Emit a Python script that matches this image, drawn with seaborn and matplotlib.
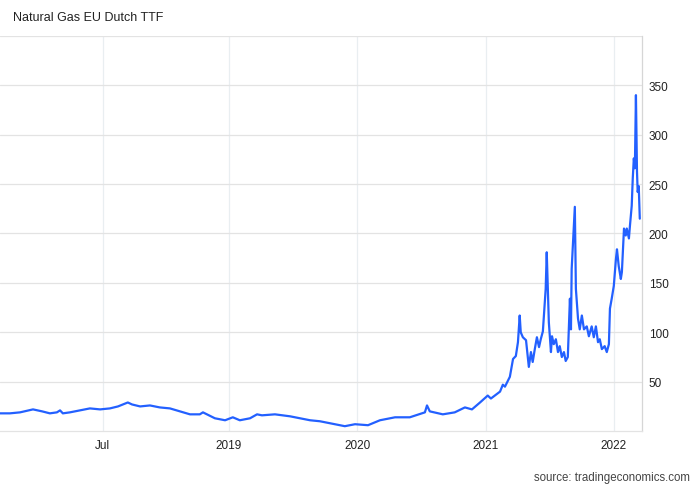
import pandas as pd
import matplotlib.pyplot as plt
import seaborn as sns

# Natural Gas EU Dutch TTF (EUR/MWh)
dates = [
    "2017-03-20", "2017-04-17", "2017-05-16", "2017-06-22", "2017-07-18", "2017-08-09",
    "2017-08-29", "2017-09-07", "2017-09-15", "2017-10-05", "2017-11-03", "2017-12-01",
    "2017-12-30", "2018-01-27", "2018-02-19", "2018-03-19", "2018-03-31", "2018-04-23",
    "2018-05-21", "2018-06-18", "2018-07-17", "2018-08-14", "2018-09-12", "2018-10-10",
    "2018-10-19", "2018-11-22", "2018-12-21", "2019-01-12", "2019-02-01", "2019-03-02",
    "2019-03-22", "2019-04-05", "2019-05-12", "2019-06-24", "2019-07-22", "2019-08-20",
    "2019-09-17", "2019-10-30", "2019-11-27", "2019-12-26", "2020-02-01", "2020-03-06",
    "2020-04-18", "2020-05-30", "2020-07-12", "2020-07-18", "2020-07-26", "2020-09-01",
    "2020-10-05", "2020-11-03", "2020-11-23", "2020-12-16", "2021-01-07", "2021-01-16",
    "2021-02-11", "2021-02-19", "2021-02-25", "2021-03-11", "2021-03-20", "2021-03-28",
    "2021-04-03", "2021-04-08", "2021-04-11", "2021-04-17", "2021-04-26", "2021-05-04",
    "2021-05-10", "2021-05-15", "2021-05-21", "2021-05-27", "2021-06-02", "2021-06-07",
    "2021-06-13", "2021-06-21", "2021-06-24", "2021-06-30", "2021-07-06", "2021-07-09",
    "2021-07-14", "2021-07-20", "2021-07-26", "2021-07-31", "2021-08-06", "2021-08-12",
    "2021-08-17", "2021-08-23", "2021-08-29", "2021-09-01", "2021-09-03", "2021-09-12",
    "2021-09-15", "2021-09-21", "2021-09-26", "2021-10-02", "2021-10-08", "2021-10-16",
    "2021-10-22", "2021-10-30", "2021-11-05", "2021-11-11", "2021-11-17", "2021-11-22",
    "2021-11-28", "2021-12-06", "2021-12-12", "2021-12-18", "2021-12-21", "2021-12-26",
    "2022-01-01", "2022-01-07", "2022-01-10", "2022-01-15", "2022-01-21", "2022-01-24",
    "2022-01-30", "2022-02-04", "2022-02-07", "2022-02-13", "2022-02-16", "2022-02-21",
    "2022-02-24", "2022-02-27", "2022-03-02", "2022-03-05", "2022-03-08", "2022-03-10",
    "2022-03-13", "2022-03-16",
]
prices = [
    18, 18, 19, 22, 20, 18,
    19, 21, 18, 19, 21, 23,
    22, 23, 25, 29, 27, 25,
    26, 24, 23, 20, 17, 17,
    19, 13, 11, 14, 11, 13,
    17, 16, 17, 15, 13, 11,
    10, 7, 5, 7, 6, 11,
    14, 14, 19, 26, 20, 17,
    19, 24, 22, 29, 36, 33,
    40, 47, 45, 55, 73, 76,
    90, 117, 100, 95, 92, 65,
    80, 70, 83, 95, 85, 93,
    101, 144, 181, 110, 80, 96,
    88, 93, 80, 86, 75, 80,
    71, 75, 134, 103, 164, 227,
    144, 114, 103, 117, 103, 106,
    96, 106, 95, 106, 90, 93,
    83, 86, 80, 88, 124, 134,
    147, 174, 184, 167, 154, 161,
    205, 198, 205, 195, 208, 228,
    256, 276, 266, 340, 263, 242,
    248, 215,
]

tick_dates = ["2018-01-07", "2019-01-01", "2020-01-01", "2021-01-01", "2022-01-01"]
tick_labels = ["Jul", "2019", "2020", "2021", "2022"]
y_ticks = [50, 100, 150, 200, 250, 300, 350]

df = pd.DataFrame({"date": pd.to_datetime(dates), "price": prices})

sns.set_theme(style="white")
plt.rcParams["font.family"] = ["Liberation Sans", "DejaVu Sans"]

fig = plt.figure(figsize=(7, 4.85), dpi=100)
ax = fig.add_axes([0, 0.109, 0.917, 0.815])

# gridlines
for d in tick_dates:
    ax.axvline(pd.Timestamp(d), color="#e9eef1", lw=0.9, zorder=0)
for v in y_ticks + [400]:
    ax.axhline(v, color="#e3e3e3", lw=0.9, zorder=0)

sns.lineplot(data=df, x="date", y="price", ax=ax, color="#2360ff", lw=1.6)

ax.set_xlim(pd.Timestamp("2017-03-20"), pd.Timestamp("2022-03-22"))
ax.set_ylim(0, 400)
ax.set_xticks(pd.to_datetime(tick_dates))
ax.set_xticklabels(tick_labels)
ax.set_yticks(y_ticks)
ax.yaxis.tick_right()
ax.tick_params(axis="x", length=0, pad=6, labelsize=8.5, labelcolor="#222222")
ax.tick_params(axis="y", length=0, pad=5, labelsize=8.5, labelcolor="#222222")
ax.set_xlabel("")
ax.set_ylabel("")

for s in ["left", "top"]:
    ax.spines[s].set_visible(False)
ax.spines["right"].set_color("#d6d6d6")
ax.spines["bottom"].set_color("#e3e3e3")
ax.spines["right"].set_linewidth(0.9)
ax.spines["bottom"].set_linewidth(0.9)

fig.text(13 / 700, 1 - 18 / 485, "Natural Gas EU Dutch TTF", fontsize=9,
         color="#222222", va="center", ha="left")
fig.text(690 / 700, 1 - 478 / 485, "source: tradingeconomics.com", fontsize=8.3,
         color="#444444", va="center", ha="right")

fig.savefig("out.png", dpi=100)
